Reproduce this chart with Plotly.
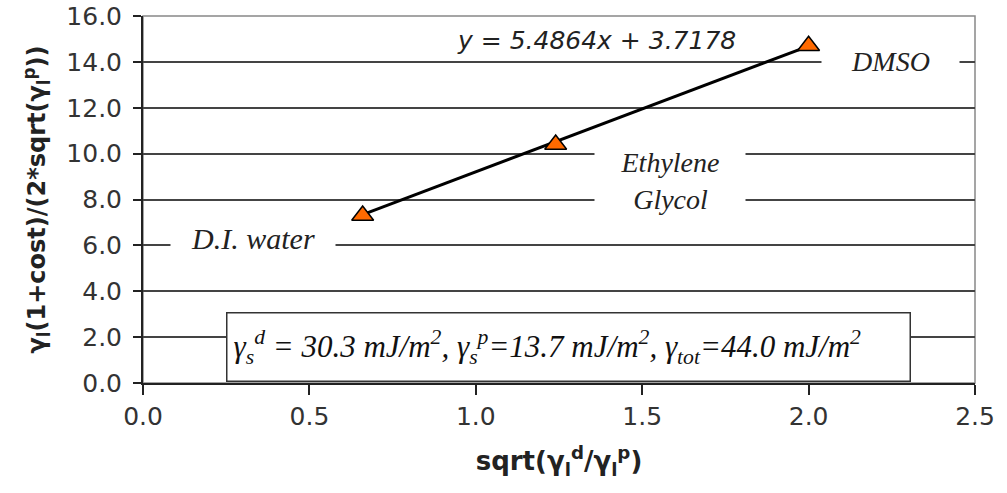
import plotly.graph_objects as go

# data
solvents = ["D.I. water", "Ethylene Glycol", "DMSO"]
x_vals = [0.66, 1.24, 2.00]
y_vals = [7.30, 10.40, 14.70]
slope = 5.4864
intercept = 3.7178
x_ticks = [0.0, 0.5, 1.0, 1.5, 2.0, 2.5]
y_ticks = [0.0, 2.0, 4.0, 6.0, 8.0, 10.0, 12.0, 14.0, 16.0]

fit_x = [min(x_vals), max(x_vals)]
fit_y = [slope * v + intercept for v in fit_x]

fig = go.Figure()
fig.add_trace(go.Scatter(
    x=fit_x, y=fit_y, mode="lines",
    line=dict(color="black", width=3), showlegend=False, hoverinfo="skip"))
fig.add_trace(go.Scatter(
    x=x_vals, y=y_vals, mode="markers", text=solvents,
    marker=dict(symbol="triangle-up", size=19, color="#FF6A00",
                line=dict(color="black", width=1.5)),
    showlegend=False))

serif = "Liberation Serif"
ann_font = dict(family=serif, size=28, color="#222222")
annotations = [
    dict(x=0.33, y=6.3, xref="x", yref="y", text="<i>D.I. water</i>",
         showarrow=False, font=dict(family=serif, size=30, color="#222222"),
         bgcolor="white", width=162),
    dict(x=1.585, y=8.8, xref="x", yref="y", text="<i>Ethylene<br>Glycol</i>",
         showarrow=False, font=ann_font, bgcolor="white", width=148, height=70),
    dict(x=2.245, y=14.0, xref="x", yref="y", text="<i>DMSO</i>",
         showarrow=False, font=ann_font, bgcolor="white", width=135),
    dict(x=1.363, y=14.95, xref="x", yref="y", text="<i>y = 5.4864x + 3.7178</i>",
         showarrow=False, font=dict(family="DejaVu Sans", size=25, color="#222222")),
    dict(x=1.28, y=1.57, xref="x", yref="y",
         text="<i>γ<sub>s</sub><sup>d</sup> = 30.3 mJ/m<sup>2</sup>, "
              "γ<sub>s</sub><sup>p</sup>=13.7 mJ/m<sup>2</sup>, "
              "γ<sub>tot</sub>=44.0 mJ/m<sup>2</sup></i>",
         showarrow=False, font=dict(family=serif, size=31, color="#111111"),
         bgcolor="white", bordercolor="#333333", borderwidth=1.5,
         width=670, height=55, align="left", borderpad=6),
]

fig.update_layout(
    width=1007, height=493,
    margin=dict(l=143, r=32, t=16, b=110, autoexpand=False),
    plot_bgcolor="white", paper_bgcolor="white",
    annotations=annotations,
    shapes=[dict(type="rect", xref="paper", yref="paper", x0=0, x1=1, y0=0, y1=1,
                 line=dict(color="#888888", width=1.5), layer="below")],
    font=dict(family="DejaVu Sans", color="#222222"),
)
fig.update_xaxes(
    range=[0, 2.5], tickvals=x_ticks, tickformat=".1f", automargin=False,
    showgrid=False, zeroline=False,
    showline=True, linecolor="#222222", linewidth=2,
    ticks="outside", ticklen=10, tickwidth=2, tickcolor="#222222",
    tickfont=dict(size=25, family="DejaVu Sans", color="#333333"),
    title=dict(text="<b>sqrt(γ<sub>l</sub><sup>d</sup>/γ<sub>l</sub><sup>p</sup>)</b>",
               font=dict(size=26, family="DejaVu Sans", color="#222222"), standoff=22),
)
fig.update_yaxes(
    range=[0, 16], tickvals=y_ticks, tickformat=".1f", automargin=False,
    showgrid=True, gridcolor="#444444", gridwidth=1.5, zeroline=False,
    showline=True, linecolor="#222222", linewidth=2,
    ticks="outside", ticklen=8, tickwidth=2, tickcolor="#222222",
    ticklabelstandoff=6,
    tickfont=dict(size=25, family="DejaVu Sans", color="#333333"),
    title=dict(text="<b>γ<sub>l</sub>(1+cost)/(2*sqrt(γ<sub>l</sub><sup>p</sup>))</b>",
               font=dict(size=24, family="DejaVu Sans", color="#222222"), standoff=14),
)

fig.write_html("out.html", config={"displayModeBar": False},
               post_script="document.body.style.margin='0';document.body.style.overflow='hidden';")
